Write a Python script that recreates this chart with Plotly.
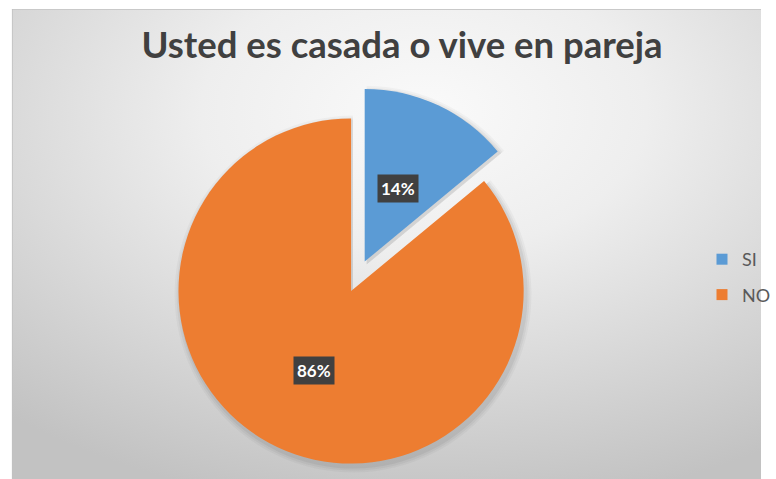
import base64
import math
import plotly.graph_objects as go

# ---- data ----
labels = ["SI", "NO"]
values = [14, 86]
colors = ["#5B9BD5", "#ED7D31"]
title_text = "Usted es casada o vive en pareja"

# ---- geometry / style (page pixel coordinates) ----
W, H = 776, 479
CX, CY = 358, 291          # pie centre
R = 176                    # pie radius px
EXPLODE = 0.185            # explode distance as fraction of radius
exploded = [True, False]
LABEL_FRAC = [0.46, 0.50]
FONT = "Lato, 'Open Sans', sans-serif"


def fx(px):
    return px / W


def fy(py):
    return 1 - py / H


total = sum(values)
fracs = [v / total for v in values]
mids = []
acc = 0.0
for f in fracs:
    mids.append((acc + f / 2) * 360.0)
    acc += f


def centre(i):
    if exploded[i]:
        a = math.radians(mids[i])
        return CX + EXPLODE * R * math.sin(a), CY - EXPLODE * R * math.cos(a)
    return CX, CY


def domain(cx, cy, r):
    return dict(x=[fx(cx - r), fx(cx + r)], y=[fy(cy + r), fy(cy - r)])


fig = go.Figure()

# soft shadow layers
for i in [1, 0]:
    cx, cy = centre(i)
    for grow, alpha in [(6, 0.03), (4, 0.04), (2, 0.05)]:
        cols = ["rgba(0,0,0,0)"] * len(values)
        cols[i] = f"rgba(0,0,0,{alpha})"
        fig.add_trace(go.Pie(
            labels=labels, values=values, sort=False, direction="clockwise", rotation=0,
            marker=dict(colors=cols, line=dict(width=0)), textinfo="none",
            hoverinfo="skip", showlegend=False,
            domain=domain(cx + 2, cy + 3, R + grow)))

# slices
for i in [1, 0]:
    cx, cy = centre(i)
    cols = ["rgba(0,0,0,0)"] * len(values)
    cols[i] = colors[i]
    fig.add_trace(go.Pie(
        labels=labels, values=values, sort=False, direction="clockwise", rotation=0,
        marker=dict(colors=cols, line=dict(width=0)), textinfo="none",
        hoverinfo="skip", showlegend=False,
        domain=domain(cx, cy, R)))

# legend entries
for i, lab in enumerate(labels):
    fig.add_trace(go.Scatter(
        x=[None], y=[None], mode="markers", name=lab, legendgroup=lab,
        marker=dict(symbol="square", size=11, color=colors[i])))

# data labels
annotations = []
for i, v in enumerate(values):
    cx, cy = centre(i)
    a = math.radians(mids[i])
    px = cx + LABEL_FRAC[i] * R * math.sin(a)
    py = cy - LABEL_FRAC[i] * R * math.cos(a)
    annotations.append(dict(
        x=fx(px), y=fy(py), xref="paper", yref="paper",
        text=f"<b>{round(100 * v / total)}%</b>", showarrow=False,
        bgcolor="#404040", borderpad=3,
        font=dict(family=FONT, size=17, color="white"),
        xanchor="center", yanchor="middle"))

# background gradient (chart area)
bx0, by0 = 12, 9
bw, bh = W - bx0, H - by0
svg = f"""<svg xmlns='http://www.w3.org/2000/svg' width='{bw}' height='{bh}' viewBox='0 0 {bw} {bh}' preserveAspectRatio='none'>
<defs><radialGradient id='g' cx='0.55' cy='0.22' r='0.85' fx='0.55' fy='0.22'>
<stop offset='0' stop-color='#fafafa'/><stop offset='0.35' stop-color='#eeeeee'/>
<stop offset='1' stop-color='#c2c2c2'/></radialGradient></defs>
<rect x='0' y='0' width='{bw}' height='{bh}' fill='url(#g)'/>
<line x1='0' y1='0.5' x2='{bw}' y2='0.5' stroke='#c8c8c8' stroke-width='1'/>
<line x1='0.5' y1='0' x2='0.5' y2='{bh}' stroke='#c0c0c0' stroke-width='1'/>
</svg>"""
src = "data:image/svg+xml;base64," + base64.b64encode(svg.encode()).decode()

fig.update_layout(
    width=W, height=H,
    margin=dict(l=0, r=0, t=0, b=0),
    paper_bgcolor="white", plot_bgcolor="rgba(0,0,0,0)",
    hovermode=False,
    xaxis=dict(visible=False), yaxis=dict(visible=False),
    images=[dict(source=src, xref="paper", yref="paper", x=fx(bx0), y=fy(by0),
                 sizex=bw / W, sizey=bh / H, sizing="stretch", layer="below",
                 xanchor="left", yanchor="top")],
    title=dict(text=title_text, x=fx(402), xanchor="center", y=fy(45), yanchor="middle",
               font=dict(family=FONT, size=36.5, color="#404040", weight="bold")),
    legend=dict(x=fx(716), y=fy(277), xanchor="left", yanchor="middle",
                font=dict(family=FONT, size=18, color="#595959"),
                bgcolor="rgba(0,0,0,0)", tracegroupgap=9, itemwidth=30),
    annotations=annotations,
)

fig.write_html(
    "out.html",
    config={"displayModeBar": False},
    post_script="document.body.style.margin='0';document.body.style.overflow='hidden';",
)
